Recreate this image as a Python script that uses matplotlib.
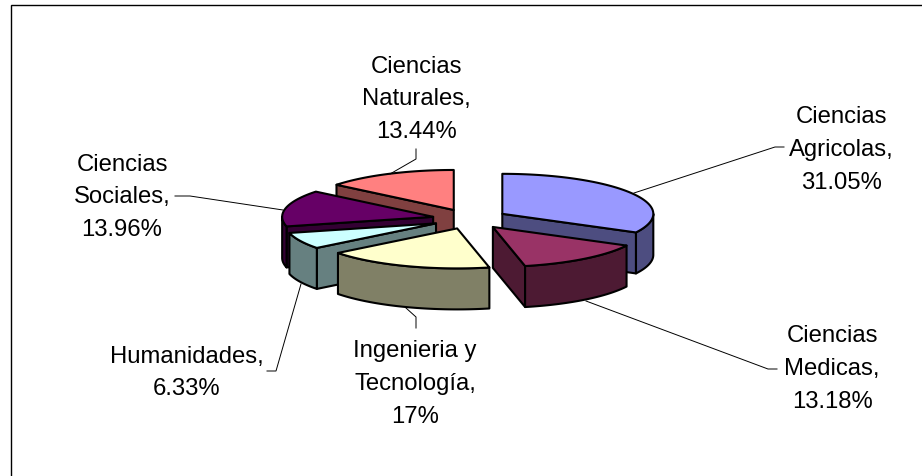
#!/usr/bin/python
import numpy as np
from matplotlib import pyplot as plt

plt.rcParams['font.family'] = ['Liberation Sans', 'DejaVu Sans']

names = ['Ciencias\nAgricolas', 'Ciencias\nMedicas', 'Ingenieria y\nTecnología',
         'Humanidades', 'Ciencias\nSociales', 'Ciencias\nNaturales']
values = [31.05, 13.18, 17, 6.33, 13.96, 13.44]
top_colors = ['#9999FF', '#993366', '#FFFFCC', '#CCFFFF', '#660066', '#FF8080']
side_colors = ['#4D4D80', '#4D1A33', '#808066', '#668080', '#330033', '#804040']

# label centre and leader line, in pixels of the 922x477 picture
label_pos = [(841, 150), (832, 369), (415, 384), (186.5, 373), (122, 197.5), (416, 99.5)]
leaders = [[(634, 194), (775, 148), (784, 148)],
           [(586, 302), (768, 370), (777, 370)],
           [(406, 309), (416, 318), (416, 329)],
           [(301, 285), (276, 372), (267, 372)],
           [(283, 211), (190, 197), (175, 197)],
           [(390, 175), (416, 160), (416, 150)]]

# pie geometry
cx, cy = 470, 220
rx, ry = 151, 40
explode = 0.25
depth = 41

fig = plt.figure(figsize=(9.22, 4.77), dpi=100)
ax = fig.add_axes([0, 0, 1, 1])
ax.set_xlim(0, 922)
ax.set_ylim(477, 0)
ax.axis('off')

# chart frame, only top and left show
ax.plot([922, 10.5, 10.5], [5.5, 5.5, 477], color='k', lw=1.0, solid_joinstyle='miter')


def arc(x0, y0, a0, a1):
    t = np.radians(np.linspace(a0, a1, 80))
    return x0 + rx * np.sin(t), y0 - ry * np.cos(t)


def face(xs, ys, color):
    ax.fill(xs, ys, facecolor=color, edgecolor='k', lw=1.5, joinstyle='round')


cuts = np.cumsum([0] + values) / sum(values) * 360
mids = (cuts[:-1] + cuts[1:]) / 2

# back slices first
for i in np.argsort(-np.cos(np.radians(mids))):
    a0, a1 = cuts[i], cuts[i + 1]
    m = np.radians(mids[i])
    x0 = cx + explode * rx * np.sin(m)
    y0 = cy - explode * ry * np.cos(m)

    # flat cut faces that look to the viewer
    for a, seen in ((a0, np.sin(np.radians(a0)) < -1e-6), (a1, np.sin(np.radians(a1)) > 1e-6)):
        if seen:
            x1, y1 = arc(x0, y0, a, a)
            face([x0, x1[0], x1[0], x0], [y0, y1[0], y1[0] + depth, y0 + depth], side_colors[i])

    # rim, front half of the ellipse only
    lo, hi = max(a0, 90), min(a1, 270)
    if lo < hi:
        xr, yr = arc(x0, y0, lo, hi)
        face(np.r_[xr, xr[::-1]], np.r_[yr, yr[::-1] + depth], side_colors[i])

    xt, yt = arc(x0, y0, a0, a1)
    face(np.r_[x0, xt], np.r_[y0, yt], top_colors[i])

for line in leaders:
    ax.plot(*zip(*line), color='k', lw=0.7)

for i in range(len(names)):
    ax.text(label_pos[i][0], label_pos[i][1], '%s,\n%g%%' % (names[i], values[i]),
            ha='center', va='center', fontsize=17.2, color='k', linespacing=1.62)

plt.savefig('out.png', dpi=100)
